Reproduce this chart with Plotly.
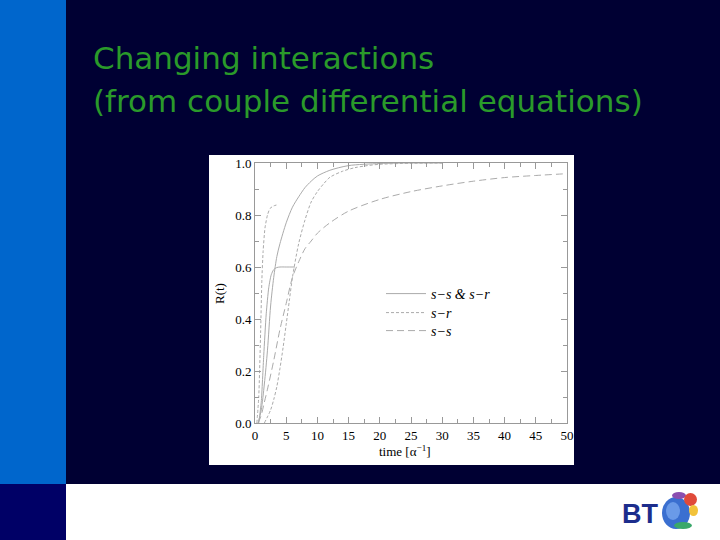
import plotly.graph_objects as go

W, H = 720, 540

# ---- data ----
t_a = [0.5, 1, 1.5, 2, 2.5, 3, 3.5, 4, 5, 6, 7, 8, 9, 10, 12, 15, 20, 25, 30]
r_a = [0, 0.05, 0.15, 0.28, 0.45, 0.56, 0.64, 0.69, 0.77, 0.83, 0.87, 0.905, 0.93, 0.95, 0.972, 0.99, 0.998, 1.0, 1.0]

t_b = [0.6, 1, 1.4, 1.8, 2.2, 2.6, 3.0, 3.5, 4, 5, 6.4]
r_b = [0, 0.08, 0.26, 0.42, 0.52, 0.57, 0.59, 0.598, 0.6, 0.6, 0.6]

t_c = [0.3, 0.6, 0.9, 1.1, 1.3, 1.6, 2.0, 2.4, 3.0, 3.7]
r_c = [0, 0.1, 0.35, 0.55, 0.66, 0.75, 0.8, 0.825, 0.835, 0.84]

t_d = [1.5, 2.5, 3, 3.5, 4, 4.5, 5, 5.5, 6, 7, 8, 9, 10, 11, 12, 14, 16, 18, 20, 25, 30]
r_d = [0, 0.05, 0.09, 0.14, 0.21, 0.29, 0.38, 0.47, 0.56, 0.69, 0.78, 0.85, 0.89, 0.92, 0.945, 0.968, 0.982, 0.99, 0.995, 0.999, 1.0]

t_e = [0.5, 1, 1.5, 2, 3, 4, 5, 6, 7, 8, 9, 10, 12, 15, 20, 25, 30, 35, 40, 45, 50]
r_e = [0, 0.03, 0.08, 0.13, 0.24, 0.36, 0.46, 0.56, 0.62, 0.67, 0.7, 0.73, 0.77, 0.815, 0.86, 0.89, 0.912, 0.93, 0.944, 0.952, 0.959]

legend_names = ["<i>s−s & s−r</i>", "<i>s−r</i>", "<i>s−s</i>"]
x_ticks = [0, 5, 10, 15, 20, 25, 30, 35, 40, 45, 50]
y_ticks = [0.0, 0.2, 0.4, 0.6, 0.8, 1.0]
title_lines = ["Changing interactions", "(from couple differential equations)"]

# ---- styling ----
GRAY = "#ababab"
SERIF = "Liberation Serif, Times New Roman, serif"
solid = dict(color=GRAY, width=1)
fine = dict(color=GRAY, width=1, dash="3px,2px")
longd = dict(color=GRAY, width=1, dash="7px,4px")

fig = go.Figure()
fig.add_trace(go.Scatter(x=t_a, y=r_a, mode="lines", line=dict(**solid, shape="spline", smoothing=0.8),
                         name=legend_names[0], showlegend=True, legend="legend"))
fig.add_trace(go.Scatter(x=t_b, y=r_b, mode="lines", line=dict(**solid, shape="spline", smoothing=0.6),
                         name=legend_names[0], showlegend=False))
fig.add_trace(go.Scatter(x=t_c, y=r_c, mode="lines", line=dict(**fine, shape="spline", smoothing=0.6),
                         name=legend_names[1], showlegend=True, legend="legend2"))
fig.add_trace(go.Scatter(x=t_d, y=r_d, mode="lines", line=dict(**fine, shape="spline", smoothing=0.8),
                         name=legend_names[1], showlegend=False))
fig.add_trace(go.Scatter(x=t_e, y=r_e, mode="lines", line=dict(**longd, shape="spline", smoothing=0.8),
                         name=legend_names[2], showlegend=True, legend="legend3"))


def px(x):
    return x / W


def py(y):
    return 1 - y / H


shapes = [
    # left blue strip
    dict(type="rect", xref="paper", yref="paper", x0=0, x1=px(66), y0=py(484), y1=1,
         fillcolor="#0066cc", line_width=0, layer="below"),
    # bottom-left navy block
    dict(type="rect", xref="paper", yref="paper", x0=0, x1=px(66), y0=0, y1=py(484),
         fillcolor="#000066", line_width=0, layer="below"),
    # bottom white strip
    dict(type="rect", xref="paper", yref="paper", x0=px(66), x1=1, y0=0, y1=py(484),
         fillcolor="white", line_width=0, layer="below"),
    # white panel of chart image
    dict(type="rect", xref="paper", yref="paper", x0=px(209), x1=px(574), y0=py(465), y1=py(155),
         fillcolor="white", line_width=0, layer="below"),
    # BT globe (approximation)
    dict(type="circle", xref="paper", yref="paper", x0=px(662), x1=px(690), y0=py(529), y1=py(497),
         fillcolor="#3a6fd0", line_width=0),
    dict(type="circle", xref="paper", yref="paper", x0=px(666), x1=px(680), y0=py(520), y1=py(502),
         fillcolor="#6a9ae8", line_width=0),
    dict(type="circle", xref="paper", yref="paper", x0=px(672), x1=px(686), y0=py(499), y1=py(492),
         fillcolor="#8a4fb0", line_width=0),
    dict(type="circle", xref="paper", yref="paper", x0=px(684), x1=px(697), y0=py(506), y1=py(493),
         fillcolor="#e04a3a", line_width=0),
    dict(type="circle", xref="paper", yref="paper", x0=px(689), x1=px(698), y0=py(516), y1=py(505),
         fillcolor="#f2c23a", line_width=0),
    dict(type="circle", xref="paper", yref="paper", x0=px(674), x1=px(692), y0=py(529), y1=py(522),
         fillcolor="#3aa86a", line_width=0),
]

TITLE_FONT = dict(family="DejaVu Sans, Liberation Sans, Arial", size=31, color="#2a9a2a")
annotations = [
    dict(text=title_lines[0], x=px(91), y=py(58), xref="paper", yref="paper", xanchor="left",
         yanchor="middle", showarrow=False, font=TITLE_FONT),
    dict(text=title_lines[1], x=px(91), y=py(101), xref="paper", yref="paper", xanchor="left",
         yanchor="middle", showarrow=False, font=TITLE_FONT),
    dict(text="R(t)", x=px(219), y=py(293), xref="paper", yref="paper", textangle=-90,
         xanchor="center", yanchor="middle",
         showarrow=False, font=dict(family=SERIF, size=13, color="black")),
    dict(text="time [α<sup>−1</sup>]", x=px(405), y=py(451), xref="paper", yref="paper",
         xanchor="center", yanchor="middle",
         showarrow=False, font=dict(family=SERIF, size=13, color="black")),
    dict(text="<b>BT</b>", x=px(640), y=py(514), xref="paper", yref="paper",
         xanchor="center", yanchor="middle",
         showarrow=False, font=dict(family="Liberation Sans, Arial", size=27, color="#1c2d8c")),
]

axis_common = dict(
    showgrid=False, zeroline=False, showline=True, linecolor="#999999", linewidth=1,
    mirror="allticks", ticks="inside", ticklen=6, tickcolor="#999999", automargin=False,
    tickfont=dict(family=SERIF, size=13, color="black"),
)

LEG_FONT = dict(family=SERIF, size=14, color="black")
legend_base = dict(xanchor="left", yanchor="top", bgcolor="rgba(0,0,0,0)", font=LEG_FONT,
                   itemwidth=40, x=px(381))

fig.update_layout(
    template="none",
    width=W, height=H, margin=dict(l=0, r=0, t=0, b=0, pad=0, autoexpand=False),
    paper_bgcolor="#000033", plot_bgcolor="white",
    xaxis=dict(domain=[px(255), px(567)], range=[0, 50], tickvals=x_ticks,
               minor=dict(dtick=2.5, ticks="inside", ticklen=4, tickcolor="#999999"),
               **axis_common),
    yaxis=dict(domain=[py(423), py(163)], range=[0, 1], tickvals=y_ticks, tickformat=".1f",
               minor=dict(dtick=0.1, ticks="inside", ticklen=4, tickcolor="#999999"),
               **axis_common),
    legend=dict(y=py(278), **legend_base),
    legend2=dict(y=py(297), **legend_base),
    legend3=dict(y=py(315), **legend_base),
    shapes=shapes, annotations=annotations, showlegend=True,
)

fig.write_html("out.html", config={"displayModeBar": False},
               post_script="document.body.style.margin='0px';")
